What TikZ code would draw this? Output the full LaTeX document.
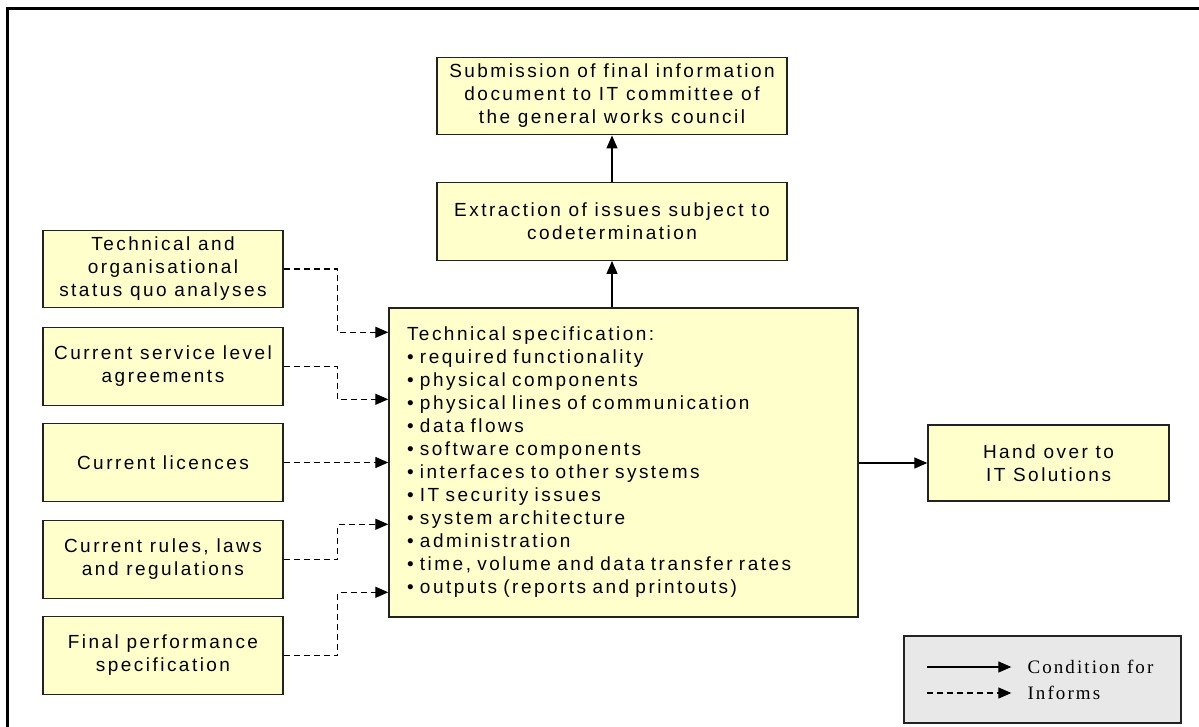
\documentclass[tikz,border=0pt]{standalone}
\usepackage{fontspec}
\setmainfont{Liberation Sans}[LetterSpace=13]
\newfontfamily\legfont{Liberation Serif}[LetterSpace=11]
\usetikzlibrary{arrows.meta,calc}
\definecolor{boxfill}{HTML}{FFFFCC}
\definecolor{legfill}{HTML}{E8E8E8}
\definecolor{edge}{HTML}{222222}
\tikzset{
  box/.style={draw=edge, line width=1.4pt, fill=boxfill, minimum width=240pt,
    minimum height=77.5pt, align=center, inner sep=0pt,
    font=\fontsize{19}{23}\selectfont},
  cond/.style={line width=1.3pt, -{Triangle[length=13pt,width=11pt]}},
  inf/.style={line width=1.3pt, dash pattern=on 6pt off 4pt,
    -{Triangle[length=13pt,width=11pt]}},
  legtext/.style={anchor=west, inner sep=0pt, font=\legfont\fontsize{19}{23}\selectfont},
}
\begin{document}
\begin{tikzpicture}[x=1pt,y=-1pt]
\useasboundingbox (0,0) rectangle (1199,727);
% outer frame (top and left edges)
\draw[line width=3pt] (7.5,740) -- (7.5,9) -- (1210,9);

% process chain
\node[box, minimum width=350pt] (sub) at (612,96)
  {Submission of final information\\document to IT committee of\\the general works council};
\node[box, minimum width=350pt] (ext) at (612,221.5)
  {Extraction of issues subject to\\codetermination};
\node[box, minimum width=469pt, minimum height=309pt, align=left,
      text width=433pt, inner xsep=18pt] (spec) at (623.5,462.5)
  {Technical specification:\\
   \textbullet\ required functionality\\
   \textbullet\ physical components\\
   \textbullet\ physical lines of communication\\
   \textbullet\ data flows\\
   \textbullet\ software components\\
   \textbullet\ interfaces to other systems\\
   \textbullet\ IT security issues\\
   \textbullet\ system architecture\\
   \textbullet\ administration\\
   \textbullet\ time, volume and data transfer rates\\
   \textbullet\ outputs (reports and printouts)};
\node[box, minimum width=241pt, minimum height=76pt] (hand) at (1048.5,463)
  {Hand over to\\IT Solutions};

% inputs
\node[box] (b1) at (163,269) {Technical and\\organisational\\status quo analyses};
\node[box] (b2) at (163,366.5) {Current service level\\agreements};
\node[box] (b3) at (163,462.5) {Current licences};
\node[box] (b4) at (163,559.5) {Current rules, laws\\and regulations};
\node[box] (b5) at (163,655.5) {Final performance\\specification};

% conditions
\draw[cond] (spec.north -| ext) -- (ext.south);
\draw[cond] (ext.north) -- (sub.south);
\draw[cond] (spec.east |- hand) -- (hand.west);

% information flows
\draw[inf] (b1.east) -- ($(b1.east)+(54,0)$) |- ($(spec.north west)+(0,25)$);
\draw[inf] (b2.east) -- ($(b2.east)+(54,0)$) |- ($(spec.north west)+(0,92)$);
\draw[inf] (b3.east) -- (spec.west |- b3.east);
\draw[inf] (b4.east) -- ($(b4.east)+(54,0)$) |- ($(spec.north west)+(0,217)$);
\draw[inf] (b5.east) -- ($(b5.east)+(54,0)$) |- ($(spec.north west)+(0,285)$);

% legend
\node[draw=edge, line width=1.4pt, fill=legfill, minimum width=277pt,
      minimum height=87pt, inner sep=0pt] (leg) at (1042.5,679.5) {};
\coordinate (l1s) at ($(leg.west)+(24,-12.5)$);
\coordinate (l1e) at ($(leg.west)+(108,-12.5)$);
\coordinate (l2s) at ($(leg.west)+(24,13.5)$);
\coordinate (l2e) at ($(leg.west)+(108,13.5)$);
\draw[cond] (l1s) -- (l1e);
\draw[inf] (l2s) -- (l2e);
\node[legtext] (lt1) at ($(l1e)+(16,0)$) {Condition for};
\node[legtext] (lt2) at ($(l2e)+(16,0)$) {Informs};
\end{tikzpicture}
\end{document}
